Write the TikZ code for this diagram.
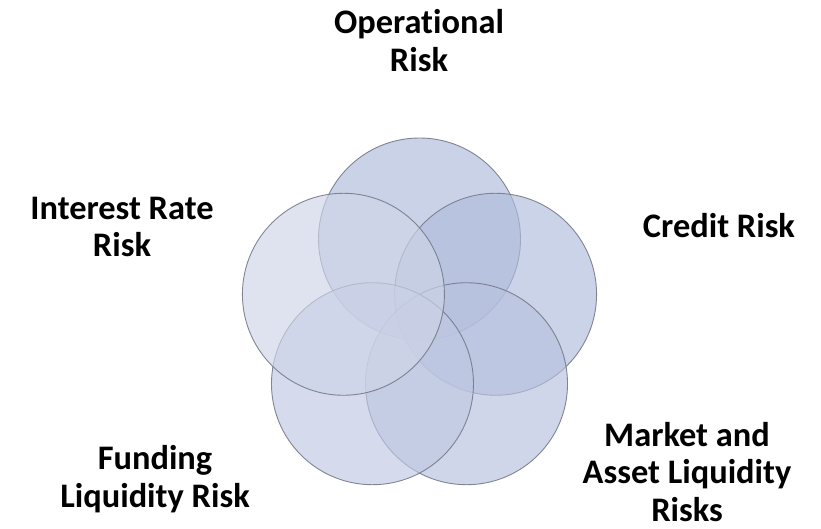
\documentclass[tikz,border=0pt]{standalone}
\usepackage{fontspec}
\setmainfont{Carlito}[Ligatures = {NoCommon}]
\usepackage{tikz}
\usetikzlibrary{positioning}
\usetikzlibrary{calc}
\definecolor{risktop}{RGB}{175, 187, 219}
\definecolor{riskright}{RGB}{176, 188, 220}
\definecolor{riskbotright}{RGB}{182, 193, 222}
\definecolor{riskbotleft}{RGB}{191, 200, 226}
\definecolor{riskleft}{RGB}{207, 213, 232}
\definecolor{riskline}{RGB}{118, 122, 138}
\tikzset{riskcirc/.style = {circle, draw = riskline, line width = 0.9, minimum size = 202,
    inner sep = 0, fill opacity = 0.66, draw opacity = 0.9}}
\tikzset{risklabel/.style = {align = center, inner sep = 0,
    font = \fontsize{34.4}{37.5}\selectfont\bfseries}}

\begin{document}
\begin{tikzpicture}[x = 1pt, y = 1pt]
      \useasboundingbox (0, 0) rectangle (821, 529);
      \coordinate (mid) at (419.5, 210);

      \foreach \a/\n in {90/top, 18/right, -54/botright, -126/botleft, 162/left} {
        \node [riskcirc, fill = risk\n] (\n) at ($(mid) + (\a:80)$) {};
      }

      \node [risklabel] (oper) at (419, 488.5) {Operational\\Risk};
      \node [risklabel] (inter) at (122, 302) {Interest Rate\\Risk};
      \node [risklabel] (credit) at (719, 303) {Credit Risk};
      \node [risklabel] (fund) at (155, 50) {Funding\\Liquidity Risk};
      \node [risklabel] (market) at (687, 57) {Market and\\Asset Liquidity\\Risks};
    \end{tikzpicture}
\end{document}
